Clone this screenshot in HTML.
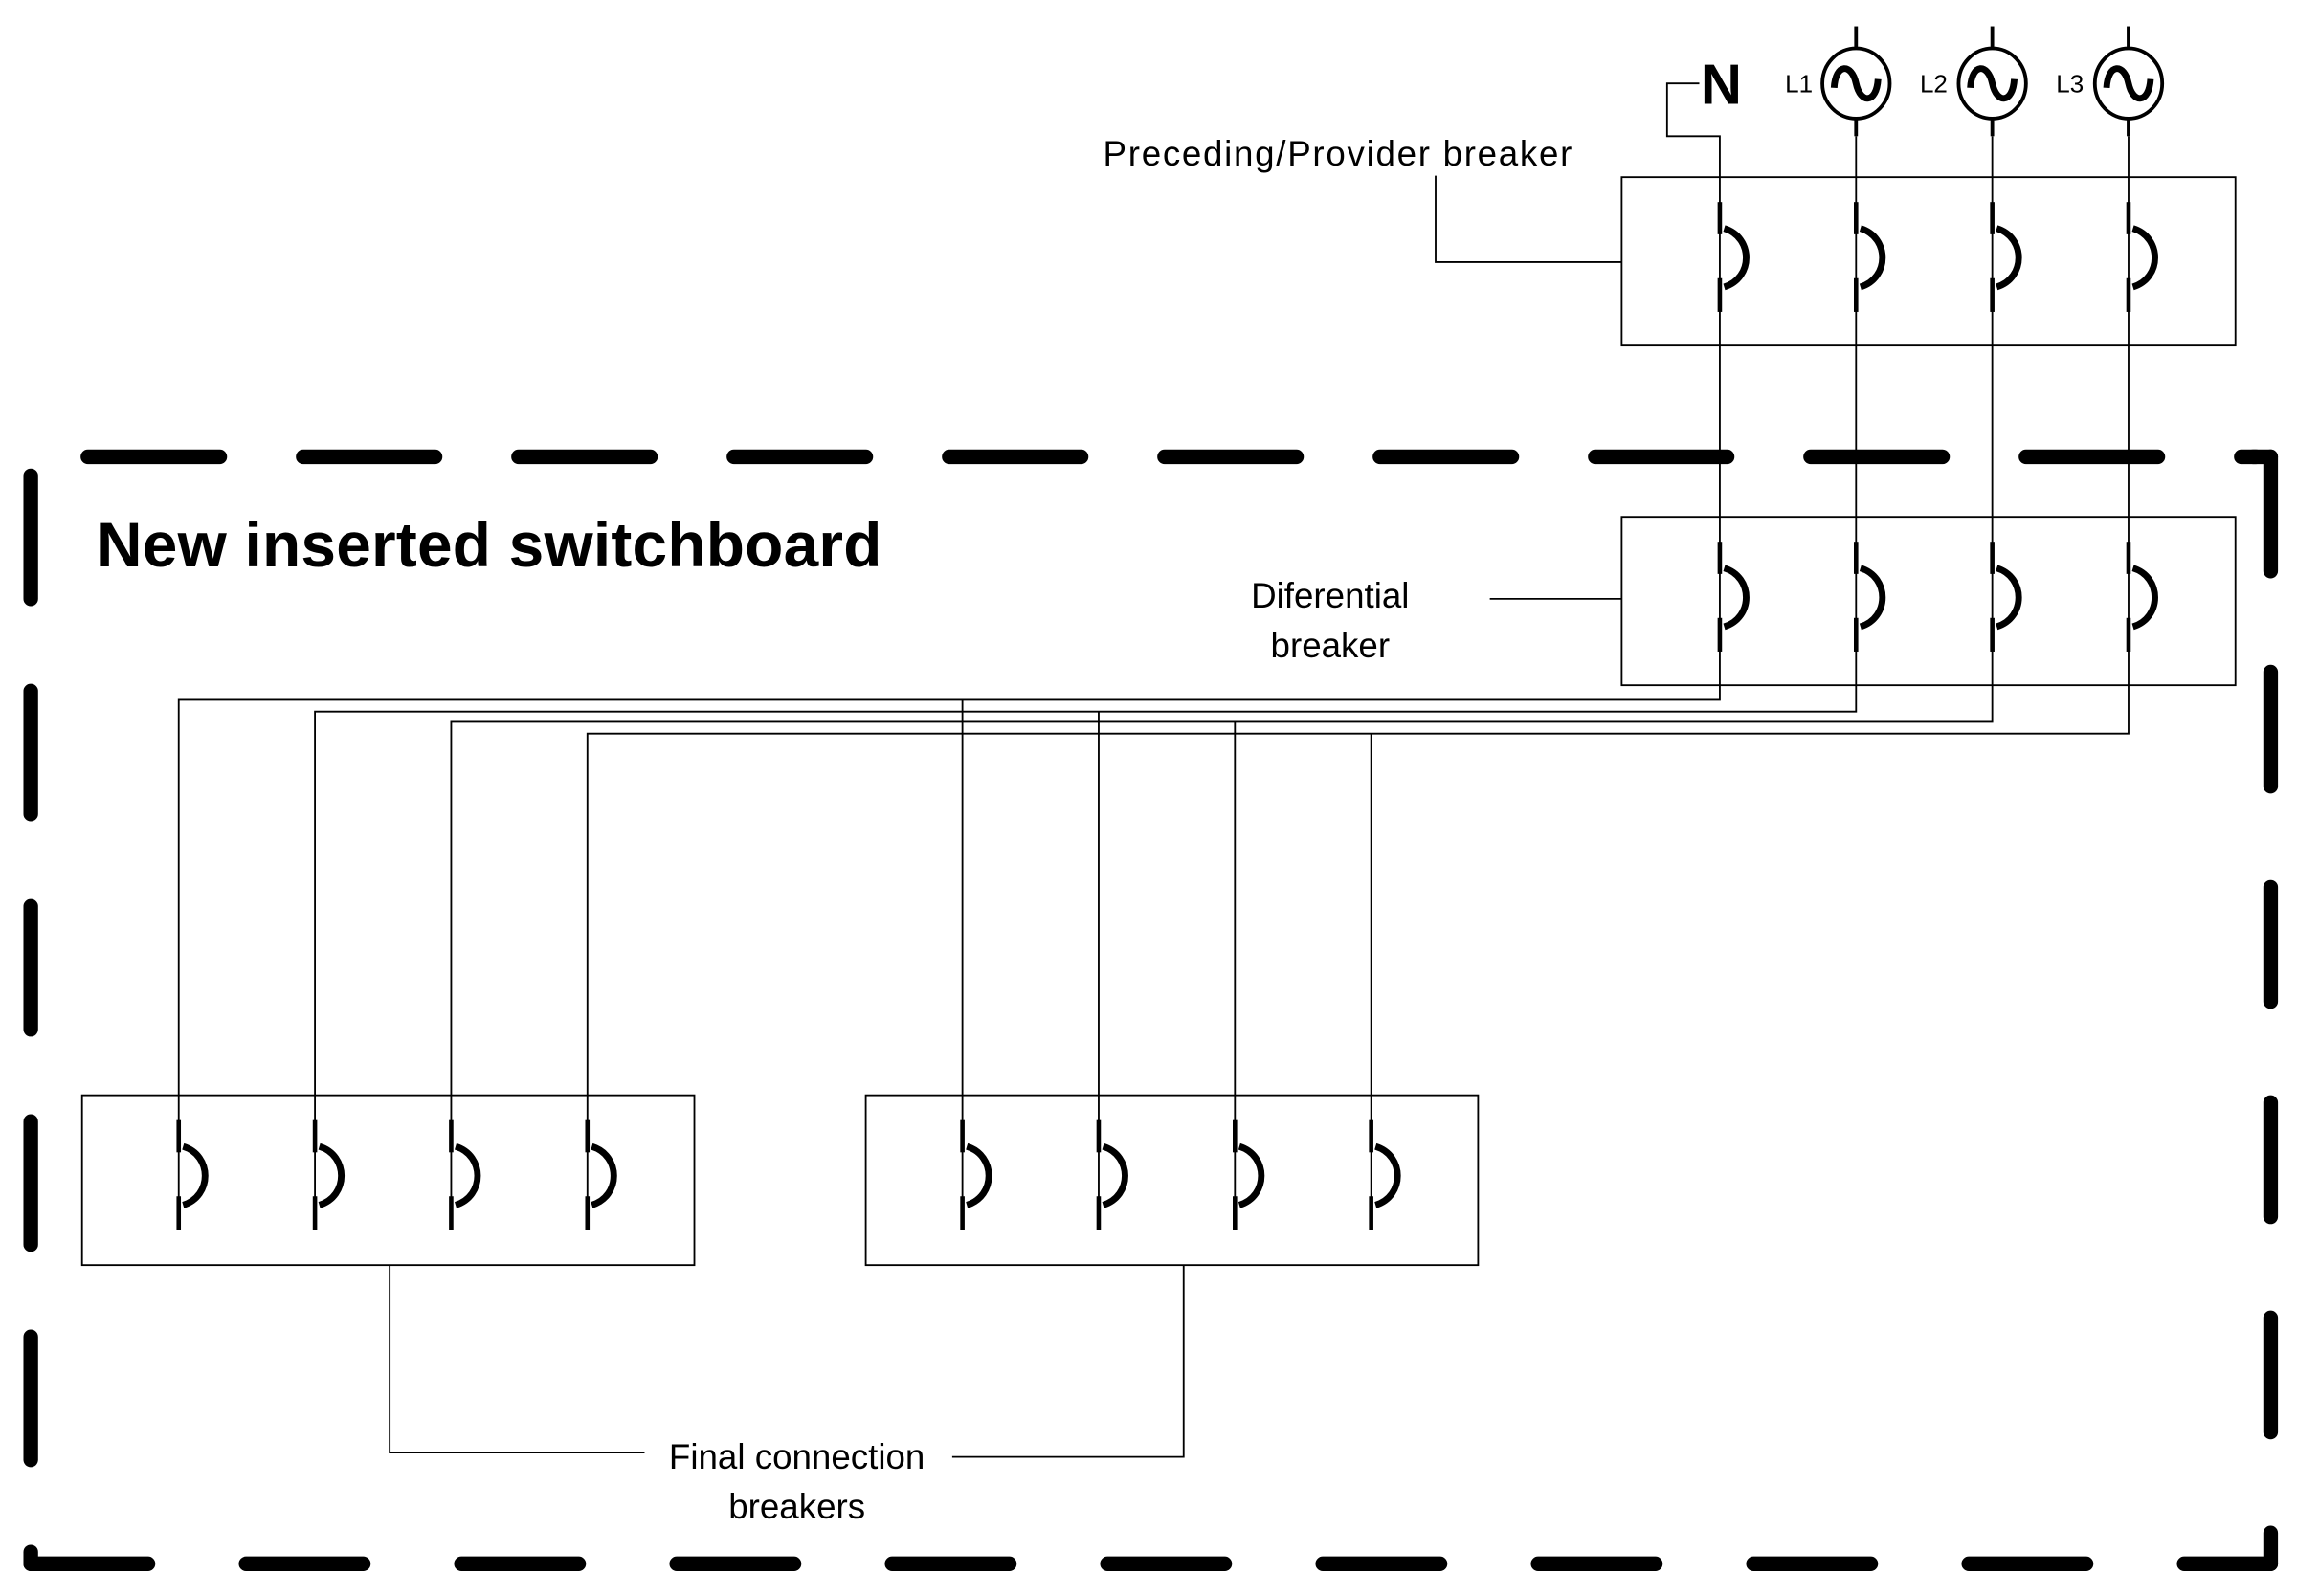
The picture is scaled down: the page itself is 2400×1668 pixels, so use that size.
<!DOCTYPE html>
<html><head><meta charset="utf-8"><style>
html,body{margin:0;padding:0;background:#fff}
svg{display:block}
text{font-family:"Liberation Sans",sans-serif;fill:#000}
</style></head><body>
<svg width="2400" height="1668" viewBox="0 0 1568 1090" preserveAspectRatio="none" xmlns="http://www.w3.org/2000/svg">
<defs>
<g id="brk">
<line x1="0" y1="-38" x2="0" y2="-16" stroke="#000" stroke-width="3"/>
<path d="M3,-20 C23,-14 23,14 3,20" fill="none" stroke="#000" stroke-width="4.5"/>
<line x1="0" y1="14" x2="0" y2="37" stroke="#000" stroke-width="3"/>
</g>
<g id="src">
<line x1="0" y1="-39" x2="0" y2="-24" stroke="#000" stroke-width="2.5"/>
<ellipse cx="0" cy="0" rx="23" ry="24" fill="#fff" stroke="#000" stroke-width="2.5"/>
<path d="M-15,3 C-14,-14 -3,-14 0,0 C3,14 14,14 15,-3" fill="none" stroke="#000" stroke-width="4.5"/>
<line x1="0" y1="24" x2="0" y2="36" stroke="#000" stroke-width="2.5"/>
</g>
</defs>

<g stroke="#000" stroke-width="10" stroke-linecap="round" fill="none">
<line x1="60" y1="312" x2="1540" y2="312" stroke-dasharray="90 57"/>
<line x1="21" y1="325" x2="21" y2="1005" stroke-dasharray="84 63"/>
<line x1="21" y1="1068" x2="1550" y2="1068" stroke-dasharray="80 67" />
<line x1="1550" y1="312" x2="1550" y2="1068" stroke-dasharray="78 69"/>
<line x1="1538" y1="312" x2="1550" y2="312"/>
<line x1="21" y1="1060" x2="21" y2="1068"/>
</g>

<g stroke="#000" stroke-width="1.2" fill="none">
<polyline points="1160,57 1138,57 1138,93 1174,93 1174,478 122,478 122,840"/>
<polyline points="1267,93 1267,486 215,486 215,840"/>
<polyline points="1360,93 1360,493 308,493 308,840"/>
<polyline points="1453,93 1453,501 401,501 401,840"/>
<line x1="657" y1="478" x2="657" y2="840"/>
<line x1="750" y1="486" x2="750" y2="840"/>
<line x1="843" y1="493" x2="843" y2="840"/>
<line x1="936" y1="501" x2="936" y2="840"/>
<polyline points="980,120 980,179 1107,179"/>
<line x1="1017" y1="409" x2="1107" y2="409"/>
<polyline points="266,864 266,992 440,992"/>
<polyline points="808,864 808,995 650,995"/>
<rect x="1107" y="121" width="419" height="115"/>
<rect x="1107" y="353" width="419" height="115"/>
<rect x="56" y="748" width="418" height="116"/>
<rect x="591" y="748" width="418" height="116"/>
</g>

<use href="#brk" x="1174" y="176"/><use href="#brk" x="1267" y="176"/><use href="#brk" x="1360" y="176"/><use href="#brk" x="1453" y="176"/>
<use href="#brk" x="1174" y="408"/><use href="#brk" x="1267" y="408"/><use href="#brk" x="1360" y="408"/><use href="#brk" x="1453" y="408"/>
<use href="#brk" x="122" y="803"/><use href="#brk" x="215" y="803"/><use href="#brk" x="308" y="803"/><use href="#brk" x="401" y="803"/>
<use href="#brk" x="657" y="803"/><use href="#brk" x="750" y="803"/><use href="#brk" x="843" y="803"/><use href="#brk" x="936" y="803"/>

<use href="#src" x="1267" y="57"/><use href="#src" x="1360" y="57"/><use href="#src" x="1453" y="57"/>
<text x="1175" y="71" font-size="39" font-weight="bold" text-anchor="middle">N</text>
<text x="1228" y="63" font-size="17" text-anchor="middle">L1</text>
<text x="1320" y="63" font-size="17" text-anchor="middle">L2</text>
<text x="1413" y="63" font-size="17" text-anchor="middle">L3</text>

<text x="913" y="113" font-size="24" text-anchor="middle" textLength="320">Preceding/Provider breaker</text>
<text x="66" y="387" font-size="43" font-weight="bold" textLength="536">New inserted switchboard</text>
<text x="908" y="415" font-size="24" text-anchor="middle">Diferential</text>
<text x="908" y="449" font-size="24" text-anchor="middle">breaker</text>
<text x="544" y="1003" font-size="24" text-anchor="middle">Final connection</text>
<text x="544" y="1037" font-size="24" text-anchor="middle">breakers</text>
</svg>
</body></html>
